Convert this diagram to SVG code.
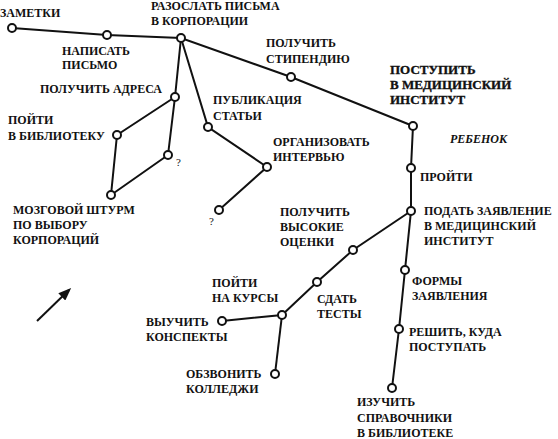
<svg xmlns="http://www.w3.org/2000/svg" width="558" height="439" viewBox="0 0 558 439">
<defs>
<style>
text{font-family:"Liberation Serif","DejaVu Serif",serif;font-size:12px;font-weight:bold;fill:#111}
.t{font-size:13px;font-weight:900;stroke:#111;stroke-width:0.35}
.i{font-style:italic}
.q{font-weight:normal;font-size:11px}
circle{fill:#fff;stroke:#111;stroke-width:2}
.e line,.e polyline{stroke:#111;stroke-width:2;fill:none}
</style>
<marker id="ah" markerWidth="13" markerHeight="10" refX="10" refY="5" orient="auto" markerUnits="userSpaceOnUse" viewBox="0 0 13 10">
<path d="M0,0 L13,5 L0,10 Z" fill="#111"/>
</marker>
</defs>
<rect width="558" height="439" fill="#fff"/>
<g class="e" id="connectors">
<polyline points="12,28 107,35 181,38 291,77 413,126 411,168 411,211 405,270 399,329 392,388"/>
<polyline points="181,38 175,97 168,155"/>
<polyline points="175,97 117,135 111,195 168,155"/>
<polyline points="181,38 208,127 267,167 219,210"/>
<polyline points="411,211 353,250 317,282 282,315 222,321"/>
<line x1="282" y1="315" x2="275" y2="374"/>
<line x1="37" y1="321" x2="69" y2="290" marker-end="url(#ah)"/>
</g>
<g id="n-zametki"><circle cx="12" cy="28" r="4"/><text x="0" y="17">ЗАМЕТКИ</text></g>
<g id="n-napisat"><circle cx="107" cy="35" r="4"/><text x="62" y="55">НАПИСАТЬ</text><text x="62" y="69">ПИСЬМО</text></g>
<g id="n-razoslat"><circle cx="181" cy="38" r="4"/><text x="151" y="10">РАЗОСЛАТЬ ПИСЬМА</text><text x="151" y="25">В КОРПОРАЦИИ</text></g>
<g id="n-stipendiya"><circle cx="291" cy="77" r="4"/><text x="266" y="47">ПОЛУЧИТЬ</text><text x="266" y="63">СТИПЕНДИЮ</text></g>
<g id="n-postupit"><circle cx="413" cy="126" r="4"/><text class="t" x="390" y="74">ПОСТУПИТЬ</text><text class="t" x="390" y="89">В МЕДИЦИНСКИЙ</text><text class="t" x="390" y="104">ИНСТИТУТ</text></g>
<g id="l-rebenok"><text class="i" x="450" y="143">РЕБЕНОК</text></g>
<g id="n-proyti"><circle cx="411" cy="168" r="4"/><text x="420" y="181">ПРОЙТИ</text></g>
<g id="n-podat"><circle cx="411" cy="211" r="4"/><text x="424" y="215">ПОДАТЬ ЗАЯВЛЕНИЕ</text><text x="424" y="230">В МЕДИЦИНСКИЙ</text><text x="424" y="245">ИНСТИТУТ</text></g>
<g id="n-formy"><circle cx="405" cy="270" r="4"/><text x="412" y="285">ФОРМЫ</text><text x="412" y="300">ЗАЯВЛЕНИЯ</text></g>
<g id="n-reshit"><circle cx="399" cy="329" r="4"/><text x="409" y="336">РЕШИТЬ, КУДА</text><text x="409" y="351">ПОСТУПАТЬ</text></g>
<g id="n-izuchit"><circle cx="392" cy="388" r="4"/><text x="357" y="406">ИЗУЧИТЬ</text><text x="357" y="422">СПРАВОЧНИКИ</text><text x="357" y="437">В БИБЛИОТЕКЕ</text></g>
<g id="n-adresa"><circle cx="175" cy="97" r="4"/><text x="40" y="93">ПОЛУЧИТЬ АДРЕСА</text></g>
<g id="n-q1"><circle cx="168" cy="155" r="4"/><text class="q" x="176" y="166">?</text></g>
<g id="n-biblioteka"><circle cx="117" cy="135" r="4"/><text x="8" y="124">ПОЙТИ</text><text x="8" y="140">В БИБЛИОТЕКУ</text></g>
<g id="n-mozgovoy"><circle cx="111" cy="195" r="4"/><text x="13" y="214">МОЗГОВОЙ ШТУРМ</text><text x="13" y="229">ПО ВЫБОРУ</text><text x="13" y="244">КОРПОРАЦИЙ</text></g>
<g id="n-publikaciya"><circle cx="208" cy="127" r="4"/><text x="213" y="104">ПУБЛИКАЦИЯ</text><text x="213" y="120">СТАТЬИ</text></g>
<g id="n-organizovat"><circle cx="267" cy="167" r="4"/><text x="273" y="146">ОРГАНИЗОВАТЬ</text><text x="273" y="161">ИНТЕРВЬЮ</text></g>
<g id="n-q2"><circle cx="219" cy="210" r="4"/><text class="q" x="209" y="225">?</text></g>
<g id="n-ocenki"><circle cx="353" cy="250" r="4"/><text x="280" y="216">ПОЛУЧИТЬ</text><text x="280" y="231">ВЫСОКИЕ</text><text x="280" y="246">ОЦЕНКИ</text></g>
<g id="n-testy"><circle cx="317" cy="282" r="4"/><text x="317" y="303">СДАТЬ</text><text x="317" y="318">ТЕСТЫ</text></g>
<g id="n-kursy"><circle cx="282" cy="315" r="4"/><text x="212" y="287">ПОЙТИ</text><text x="212" y="302">НА КУРСЫ</text></g>
<g id="n-konspekty"><circle cx="222" cy="321" r="4"/><text x="146" y="326">ВЫУЧИТЬ</text><text x="146" y="341">КОНСПЕКТЫ</text></g>
<g id="n-obzvonit"><circle cx="275" cy="374" r="4"/><text x="186" y="378">ОБЗВОНИТЬ</text><text x="186" y="393">КОЛЛЕДЖИ</text></g>
</svg>
